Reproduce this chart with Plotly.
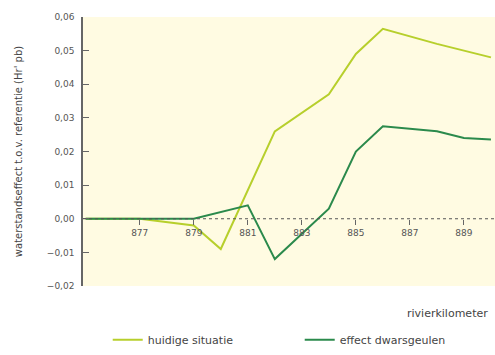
import plotly.graph_objects as go

# rivierkilometer vs waterstandseffect
km_huidig = [875, 877, 879, 880, 882, 884, 885, 886, 888, 890]
huidige_situatie = [0.0, 0.0, -0.002, -0.009, 0.026, 0.037, 0.049, 0.0565, 0.052, 0.048]

km_effect = [875, 877, 879, 881, 882, 884, 885, 886, 888, 889, 890]
effect_dwarsgeulen = [0.0, 0.0, 0.0, 0.004, -0.012, 0.003, 0.020, 0.0275, 0.026, 0.024, 0.0236]

x_ticks = [877, 879, 881, 883, 885, 887, 889]
y_ticks = [-0.02, -0.01, 0.0, 0.01, 0.02, 0.03, 0.04, 0.05, 0.06]

LIGHT = "#b7cf2c"
DARK = "#2b8a4c"
FONT = "DejaVu Sans"

fig = go.Figure()
fig.add_trace(go.Scatter(x=km_huidig, y=huidige_situatie, mode="lines",
                         name="huidige situatie", line=dict(color=LIGHT, width=2)))
fig.add_trace(go.Scatter(x=km_effect, y=effect_dwarsgeulen, mode="lines",
                         name="effect dwarsgeulen", line=dict(color=DARK, width=2)))

# dotted zero line acting as x axis
fig.add_shape(type="line", xref="paper", x0=0, x1=1, yref="y", y0=0, y1=0,
              line=dict(color="#555555", width=1.2, dash="dot"), layer="above")

fig.update_xaxes(range=[874.9, 890.15], tickvals=x_ticks, ticks="outside",
                 ticklen=5, tickcolor="#666666", showgrid=False, zeroline=False,
                 showline=False, anchor="free", position=0.25, automargin=False,
                 tickfont=dict(size=9, color="#555555", family=FONT))
fig.update_yaxes(range=[-0.02, 0.06], tickvals=y_ticks, tickformat=".2f",
                 ticks="inside", ticklen=6, tickcolor="#666666",
                 showline=True, linecolor="#666666", linewidth=1.5,
                 showgrid=False, zeroline=False, automargin=False,
                 ticklabelstandoff=5,
                 tickfont=dict(size=9, color="#555555", family=FONT),
                 title=dict(text="waterstandseffect t.o.v. referentie (Hr' pb)",
                            font=dict(size=10, color="#444444", family=FONT),
                            standoff=22))

fig.add_annotation(text="rivierkilometer", xref="paper", yref="paper",
                   x=0.988, y=-0.07, xanchor="right", yanchor="top",
                   showarrow=False, font=dict(size=11, color="#444444", family=FONT))

fig.update_layout(
    width=495, height=355,
    margin=dict(l=83, r=0, t=17, b=69),
    paper_bgcolor="white", plot_bgcolor="#fffbe2",
    separators=",.",
    showlegend=True,
    legend=dict(orientation="h", x=0.06, y=-0.2, xanchor="left", yanchor="middle",
                entrywidth=147, entrywidthmode="pixels",
                font=dict(size=11, color="#444444", family=FONT)),
)

# drop the default body margin so the figure fills the window exactly
fig.write_html("out.html", config={"displayModeBar": False},
               post_script="document.body.style.margin='0';document.body.style.overflow='hidden';")
